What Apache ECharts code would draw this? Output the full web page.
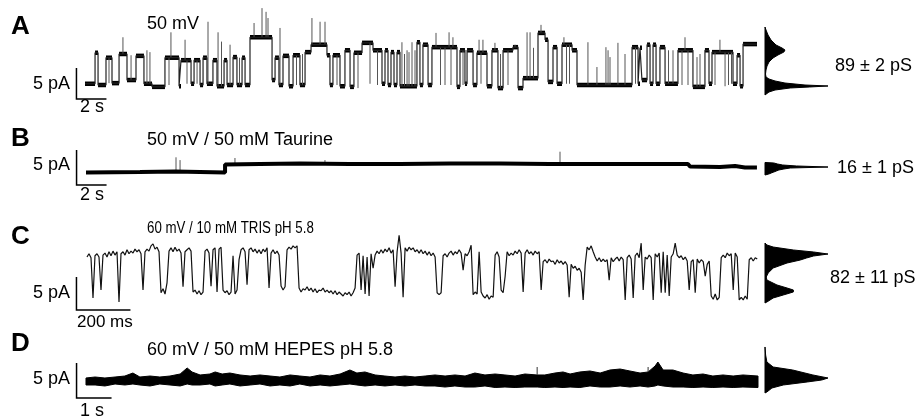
<!DOCTYPE html>
<html><head><meta charset="utf-8">
<script src="https://cdn.jsdelivr.net/npm/echarts@6/dist/echarts.min.js"></script>
<style>html,body{margin:0;padding:0;background:#fff}#c{width:916px;height:419px}</style>
</head><body><div id="c"></div>
<script>
// ---------------- DATA ----------------
// Panel A: 50 mV, dwell segments (start time s, level pA), record ends at aEnd
const aStart = [0,0.67,0.87,1.4,1.8,2.27,2.8,3.4,3.93,4.47,5.33,6.27,6.4,7.07,7.27,7.67,7.87,8.13,8.53,8.8,9.27,9.47,9.87,10.13,10.47,10.67,11.0,12.47,12.67,12.93,13.2,13.6,13.87,14.33,14.67,15.07,16.13,16.33,16.53,17.0,17.33,17.67,17.93,18.47,19.2,19.8,20.0,20.2,20.4,20.6,20.8,21.0,22.13,22.33,22.53,22.87,23.13,24.8,25.0,25.33,25.47,25.87,26.13,26.8,27.13,27.53,27.87,28.53,28.87,29.2,30.2,30.67,30.87,31.2,31.47,31.8,32.47,32.8,36.47,36.87,37.0,37.13,37.47,37.67,37.87,38.07,38.33,38.67,39.53,40.53,41.33,41.6,41.8,43.2,43.47,43.67,43.87];
const aLevel = [0.2,5.2,0,4.4,0.3,5.0,0.8,4.7,0.2,-0.3,4.4,-0.2,4.0,0.2,4.0,0,4.4,0.2,4.0,-0.2,4.0,0,4.5,0,4.4,0,7.7,0.8,4.4,0,4.7,-0.2,4.8,0,5.3,6.5,4.8,0,4.8,-0.2,5.6,-0.3,5.2,6.8,5.6,0.2,5.6,0,5.3,0,5.3,-0.2,6.9,0,6.5,0,6.1,-0.3,5.6,0.2,5.6,0,5.2,-0.2,5.6,-0.5,5.6,6.1,-0.5,1.1,8.4,7.3,0.5,6.1,0.2,6.5,5.6,0,6.1,0.2,6.0,0.8,6.5,0.2,6.5,0.2,6.1,0.2,5.6,-0.3,5.6,0.2,5.3,0.2,4.8,-0.2,6.6];
const aEnd = 44.8;
// brief events (time s, peak pA)
const aSpikeT = [1.6,2.53,3.07,4.13,4.33,5.6,5.73,6.67,6.8,7.47,8.2,8.87,9.1,9.67,10.3,11.27,11.8,12.07,12.2,13.0,14.1,14.5,15.13,15.67,16.0,16.8,18.2,19.0,19.5,21.13,21.3,21.47,21.6,21.8,22.0,23.4,23.7,24.0,24.27,24.4,24.53,25.2,26.27,26.4,26.53,27.33,27.7,28.2,28.67,29.47,29.67,29.9,30.4,31.93,32.1,32.3,33.53,34.13,34.73,34.87,35.0,35.53,36.0,36.7,38.9,39.2,39.8,40.0,40.2,40.8,41.0,42.0,42.33,42.67,42.9,43.1];
const aSpikeI = [0.3,7.7,4.8,5.6,5.3,0,8.5,7.3,0.2,0.2,10.2,8.5,7.0,6.5,4.4,10.0,12.4,11.8,10.8,9.2,0,5.0,10.8,10.2,10.2,0,-0.5,0.2,0,6.9,5.0,5.6,5.3,6.9,5.6,8.4,0,0,8.5,0,7.7,0,7.3,0.2,7.3,6.8,5.0,0,6.5,8.5,8.5,6.0,9.7,7.7,0.2,0.2,6.9,2.9,6.1,5.6,4.5,6.8,5.0,0.2,5.6,5.6,0,7.7,0,4.5,5.0,0,7.3,-0.2,0,0.2];

// Panel B: 50 mV / 50 mM Taurine (time s, current pA)
const bT = [0,3.6,5.93,7.6,9.27,9.27,11.6,14.27,17.6,20.93,24.27,27.6,30.93,34.27,37.6,40.13,40.27,42.27,43.27,43.93,44.73];
const bI = [-0.07,0,0.07,0,-0.07,1.07,1.14,1.21,1.14,1.14,1.21,1.21,1.14,1.14,1.14,1.14,0.79,0.71,0.86,0.64,0.64];
const bSpikeT = [6.0,6.27,9.93,15.93,31.6];
const bSpikeI = [2.1,1.7,2.0,1.7,2.9];

// Panel C: 60 mV / 10 mM TRIS pH 5.8, sampled trace (interval ms, current pA)
const cDtMs = 7.41;
const cI = [5.9,6.4,5.8,-0.3,6.1,6.4,5.9,0.9,6.2,6.5,
5.9,6.7,6.1,6.8,6.2,6.7,-0.9,6.4,6.7,6.2,
7.0,6.4,6.8,6.5,7.1,6.7,7.0,6.4,0.9,6.7,
7.1,6.8,7.6,7.9,7.1,7.4,6.7,0.5,1.1,0.3,
2.0,6.8,7.3,6.7,7.4,6.8,7.1,6.5,1.4,6.7,
7.0,7.3,6.8,0.6,0.9,0.3,0.8,0.2,0.6,6.8,
7.1,6.5,1.5,7.0,7.3,0.6,7.1,7.4,0.9,0.5,
0.8,0.2,0.6,6.1,0.3,0.9,5.5,7.0,7.3,6.7,
1.7,7.0,7.3,6.7,7.1,6.5,7.0,6.4,7.1,6.7,
7.3,1.2,6.5,7.0,6.4,6.8,6.2,1.5,0.9,1.4,
7.0,7.4,7.1,7.6,7.3,7.6,1.2,0.6,1.1,0.9,
1.4,0.8,1.2,0.6,1.1,0.5,0.9,0.8,1.2,0.6,
0.9,0.5,0.8,0.3,0.8,0.2,0.6,0.3,0.0,0.5,
0.2,0.6,0.0,0.5,1.2,6.2,6.5,0.9,6.1,0.3,
5.9,0.0,6.4,4.2,6.2,6.8,6.4,7.0,6.5,7.1,
6.7,7.3,6.5,7.0,1.4,6.7,9.2,6.5,-0.2,7.3,
6.8,7.4,7.0,7.3,6.7,7.0,6.5,7.0,6.4,6.8,
6.2,6.7,6.1,6.5,5.9,0.5,0.2,0.5,6.1,6.4,
5.9,6.5,6.8,6.2,6.7,6.4,7.0,6.5,3.9,6.4,
6.1,6.7,7.7,0.2,0.6,0.3,6.7,0.6,0.0,-0.3,
0.2,-0.5,0.0,-0.2,6.2,6.7,5.9,0.9,0.5,3.0,
6.7,6.1,6.5,6.2,6.8,6.4,7.0,6.5,0.6,6.5,
7.0,6.4,6.7,6.2,6.8,6.4,6.7,0.9,5.2,5.5,
5.0,5.6,5.2,5.3,4.8,5.5,5.0,5.3,4.8,5.2,
4.7,-0.2,4.8,4.2,4.5,3.9,4.2,3.6,-0.6,4.7,
7.4,7.0,7.6,6.7,5.9,5.3,5.8,5.2,5.6,5.2,
5.5,2.4,5.8,5.2,5.6,5.9,5.3,5.9,5.5,-0.6,
5.8,6.2,5.6,-0.3,6.1,6.5,5.8,8.0,0.9,5.9,
5.6,6.2,5.8,-0.6,6.4,5.9,6.5,0.5,6.7,0.5,
6.2,0.0,5.9,6.4,8.0,6.2,5.8,6.1,5.5,5.9,
5.3,0.9,5.2,5.5,0.5,5.6,5.0,5.5,5.2,3.0,
4.8,5.3,0.0,-0.5,0.3,-0.6,-0.2,5.8,6.2,5.8,
6.5,6.1,6.4,0.9,6.5,5.9,-0.6,-0.2,-0.6,0.0,
-0.5,5.5,5.8,5.3,5.8,5.6];

// Panel D: 60 mV / 50 mM HEPES pH 5.8, noise envelope (time s, upper pA, lower pA)
const dT = [0,0.26,0.54,0.83,1.11,1.34,1.54,1.83,2.11,2.4,2.69,2.89,3.03,3.26,3.54,3.69,3.89,4.11,4.4,4.69,4.97,5.26,5.54,5.83,6.11,6.4,6.69,6.97,7.26,7.54,7.74,7.97,8.26,8.54,8.83,9.11,9.4,9.69,9.97,10.26,10.54,10.83,11.11,11.4,11.69,11.97,12.26,12.54,12.89,13.11,13.4,13.63,13.83,14.11,14.4,14.69,14.97,15.26,15.54,15.83,16.06,16.26,16.34,16.49,16.77,17.06,17.34,17.63,17.91,18.2,18.49,18.77,19.2];
const dHi = [0.43,0.57,0.43,0.57,0.71,1.14,0.57,0.71,0.57,0.71,1.0,1.86,1.29,0.86,1.0,1.29,1.0,1.14,0.86,0.71,0.86,0.71,0.57,0.86,0.71,0.57,0.86,0.71,1.0,1.57,1.14,1.29,0.86,0.71,0.57,0.71,0.57,0.71,0.86,0.71,0.86,0.71,1.14,0.86,1.0,0.86,0.71,1.0,0.86,0.86,1.14,1.29,1.0,1.29,1.43,1.14,1.57,1.71,1.43,1.14,1.29,2.14,2.71,1.57,1.57,1.14,0.86,1.0,0.71,0.86,0.71,0.86,0.71];
const dLo = [-0.57,-0.57,-0.71,-0.43,-0.57,-0.43,-0.57,-0.71,-0.43,-0.57,-0.71,-0.43,-0.57,-0.57,-0.43,-0.71,-0.57,-0.43,-0.71,-0.57,-0.43,-0.71,-0.57,-0.71,-0.43,-0.71,-0.57,-0.71,-0.57,-0.43,-0.57,-0.71,-0.57,-0.71,-0.57,-0.71,-0.57,-0.71,-0.71,-0.86,-0.71,-0.86,-0.86,-0.71,-0.93,-0.86,-0.93,-0.86,-0.86,-0.93,-0.86,-0.93,-0.86,-0.93,-0.71,-0.86,-0.86,-0.71,-0.86,-0.71,-0.86,-0.71,-0.57,-0.71,-0.86,-0.86,-0.93,-0.86,-0.93,-0.86,-0.93,-0.86,-0.93];
const dSpikeT = [12.89,16.06];
const dSpikeFrom = [0.86,1.29];
const dSpikeI = [2.0,2.0];

// Amplitude histograms (current pA, relative count)
const hAI = [9.35,8.87,8.06,7.26,6.45,5.97,5.65,5.32,4.84,4.35,3.71,3.06,2.42,1.77,1.29,0.97,0.65,0.32,0,-0.16,-0.32,-0.48,-0.81,-1.13,-1.61];
const hAN = [0,1.6,4.8,9.5,17.5,27,31.7,30,20.6,12.7,6.3,3.2,1.6,0.8,1.6,6.3,15.9,31.7,63.5,100,71,40,15.9,6.3,0];
const hBI = [1.36,1.29,1.14,1.0,0.86,0.71,0.57,0.43,0.29,0.14,0,-0.14,-0.29,-0.43];
const hBN = [0,14,20,28,50,100,40,30,22,18,14,10,6,0];
const hCI = [8.03,7.73,7.42,6.97,6.67,6.36,6.06,5.76,5.45,5.0,4.24,3.48,2.88,2.42,1.67,1.21,0.91,0.61,0.15,-0.3,-0.91,-1.06];
const hCN = [0,3,13,45,77,100,77,66,56,35,13,5,2,3,19,35,45,45,29,13,3,0];
const hDI = [4.86,3.71,2.71,2.0,1.57,0.86,0.43,0.14,-0.14,-0.57,-1.0,-1.57,-1.71];
const hDN = [0,1,3,13,44,76,100,90,67,29,11,3,0];

// Texts
const panelLetters = ['A','B','C','D'];
const panelTitles = ['50 mV','50 mV / 50 mM Taurine','60 mV / 10 mM TRIS pH 5.8','60 mV / 50 mM HEPES pH 5.8'];
const conductances = ['89 ± 2 pS','16 ± 1 pS','82 ± 11 pS',''];
const scaleI = [5,5,5,5];             // pA
const scaleT = [2,2,200,1];           // s, s, ms, s
const scaleTLabel = ['2 s','2 s','200 ms','1 s'];
const scaleILabel = '5 pA';

// ---------------- LAYOUT ----------------
const FONT = '"Liberation Sans", Arial, sans-serif';
const L = [
  {top:1.3,  height:99.82, xMin:-0.6,    xMax:44.8, yMin:-2.6, yMax:13.5, width:681,   bar:[-0.57,-2.26], letterY:27,  titleY:24,  titleF:18, titleSX:1,    iLabY:84,  tLabY:107, tLabX:80, tLabF:18, gY:66},
  {top:144,  height:45.5,  xMin:-0.667,  xMax:44.8, yMin:-2.5, yMax:4,    width:682,   bar:[-0.63,-1.86], letterY:139, titleY:140, titleF:18, titleSX:1,    iLabY:165, tLabY:195, tLabX:80, tLabF:18, gY:168},
  {top:233.3,height:79.2,  xMin:-40.7,   xMax:2483, yMin:-2.5, yMax:9.5,  width:681.4, bar:[-39,-2.12],   letterY:237, titleY:229, titleF:16, titleSX:0.83, iLabY:293, tLabY:322, tLabX:77, tLabF:17, gY:278},
  {top:346,  height:56,    xMin:-0.2857, xMax:19.2, yMin:-3,   yMax:5,    width:682,   bar:[-0.27,-2.43], letterY:344, titleY:350, titleF:18, titleSX:1,    iLabY:379, tLabY:411, tLabX:80, tLabF:18, gY:0}
];
const gX = [835,837,830,0];

const grids = [], xAxes = [], yAxes = [];
L.forEach((p) => {
  grids.push({left:76, top:p.top, width:p.width, height:p.height});
  xAxes.push({type:'value', gridIndex:grids.length-1, min:p.xMin, max:p.xMax, show:false});
  yAxes.push({type:'value', gridIndex:grids.length-1, min:p.yMin, max:p.yMax, show:false});
});
L.forEach((p) => {
  grids.push({left:765, top:p.top, width:63, height:p.height});
  xAxes.push({type:'value', gridIndex:grids.length-1, min:0, max:100, show:false});
  yAxes.push({type:'value', gridIndex:grids.length-1, min:p.yMin, max:p.yMax, show:false});
});

const base = {animation:false, silent:true};
const series = [];

const aSteps = [];
const aSegs = [];
for (let k = 0; k < aStart.length; k++) {
  const t1 = k + 1 < aStart.length ? aStart[k+1] : aEnd;
  aSteps.push([aStart[k], aLevel[k]], [t1, aLevel[k]]);
  aSegs.push([aStart[k], t1, aLevel[k]]);
}
function levelAt(starts, levels, t) {
  let lv = levels[0];
  for (let k = 0; k < starts.length; k++) { if (starts[k] <= t) lv = levels[k]; }
  return lv;
}
const aSp = aSpikeT.map((t, i) => [t, levelAt(aStart, aLevel, t), aSpikeI[i]]);
const bSp = bSpikeT.map((t, i) => [t, levelAt(bT, bI, t), bSpikeI[i]]);
const dSp = dSpikeT.map((t, i) => [t, dSpikeFrom[i], dSpikeI[i]]);

function spikeRender(color, w) {
  return function (params, api) {
    const a = api.coord([api.value(0), api.value(1)]);
    const b = api.coord([api.value(0), api.value(2)]);
    return {type:'line', shape:{x1:a[0], y1:a[1], x2:b[0], y2:b[1]}, style:{stroke:color, lineWidth:w}};
  };
}
function dwellRender(params, api) {
  const a = api.coord([api.value(0), api.value(2)]);
  const b = api.coord([api.value(1), api.value(2)]);
  return {type:'line', shape:{x1:a[0], y1:a[1], x2:b[0], y2:b[1]}, style:{stroke:'#000', lineWidth:4.5, lineCap:'butt'}};
}
function polyRender(pts) {
  return function (params, api) {
    return {type:'polygon', shape:{points: pts.map(p => api.coord(p))}, style:{fill:'#000', stroke:'#000', lineWidth:1}};
  };
}

series.push(Object.assign({type:'line', xAxisIndex:0, yAxisIndex:0, data:aSteps, symbol:'none', lineStyle:{color:'#222', width:1.2}}, base));
series.push(Object.assign({type:'custom', xAxisIndex:0, yAxisIndex:0, data:aSegs, encode:{x:[0,1], y:2}, renderItem:dwellRender}, base));
series.push(Object.assign({type:'custom', xAxisIndex:0, yAxisIndex:0, data:aSp, encode:{x:0, y:[1,2]}, renderItem:spikeRender('#555', 1)}, base));

series.push(Object.assign({type:'line', xAxisIndex:1, yAxisIndex:1, data:bT.map((t,i)=>[t,bI[i]]), symbol:'none', lineStyle:{color:'#000', width:4}}, base));
series.push(Object.assign({type:'custom', xAxisIndex:1, yAxisIndex:1, data:bSp, encode:{x:0, y:[1,2]}, renderItem:spikeRender('#555', 1)}, base));

series.push(Object.assign({type:'line', xAxisIndex:2, yAxisIndex:2, data:cI.map((v,k)=>[k*cDtMs, v]), symbol:'none', lineStyle:{color:'#111', width:1.2}}, base));

const dPoly = dT.map((t,i)=>[t,dHi[i]]).concat(dT.map((t,i)=>[t,dLo[i]]).reverse());
series.push(Object.assign({type:'custom', xAxisIndex:3, yAxisIndex:3, data:[[0,0]], renderItem:polyRender(dPoly)}, base));
series.push(Object.assign({type:'custom', xAxisIndex:3, yAxisIndex:3, data:dSp, encode:{x:0, y:[1,2]}, renderItem:spikeRender('#333', 1)}, base));

L.forEach((p, i) => {
  const t0 = p.bar[0], i0 = p.bar[1];
  series.push(Object.assign({type:'line', xAxisIndex:i, yAxisIndex:i,
    data:[[t0, i0 + scaleI[i]], [t0, i0], [t0 + scaleT[i], i0]],
    symbol:'none', lineStyle:{color:'#000', width:1.5, join:'miter'}}, base));
});

[[hAI,hAN],[hBI,hBN],[hCI,hCN],[hDI,hDN]].forEach((h, i) => {
  const pts = h[0].map((v, k) => [h[1][k], v]);
  series.push(Object.assign({type:'custom', xAxisIndex:4+i, yAxisIndex:4+i, data:[[0,0]], renderItem:polyRender(pts)}, base));
});

const graphic = [];
function txt(x, y, text, font, align, sx) {
  graphic.push({type:'text', x:x, y:y, scaleX:sx||1, silent:true,
    style:{text:text, font:font, fill:'#000', align:align||'left', verticalAlign:'middle', textAlign:align||'left', textVerticalAlign:'middle'}});
}
L.forEach((p, i) => {
  txt(11, p.letterY, panelLetters[i], 'bold 26px ' + FONT);
  txt(147, p.titleY, panelTitles[i], p.titleF + 'px ' + FONT, 'left', p.titleSX);
  txt(70, p.iLabY, scaleILabel, '18px ' + FONT, 'right');
  txt(p.tLabX, p.tLabY, scaleTLabel[i], p.tLabF + 'px ' + FONT);
  if (conductances[i]) txt(gX[i], p.gY, conductances[i], '18px ' + FONT);
});

const chart = echarts.init(document.getElementById('c'), null, {renderer:'canvas'});
chart.setOption({animation:false, grid:grids, xAxis:xAxes, yAxis:yAxes, series:series, graphic:graphic});
</script>
</body></html>
